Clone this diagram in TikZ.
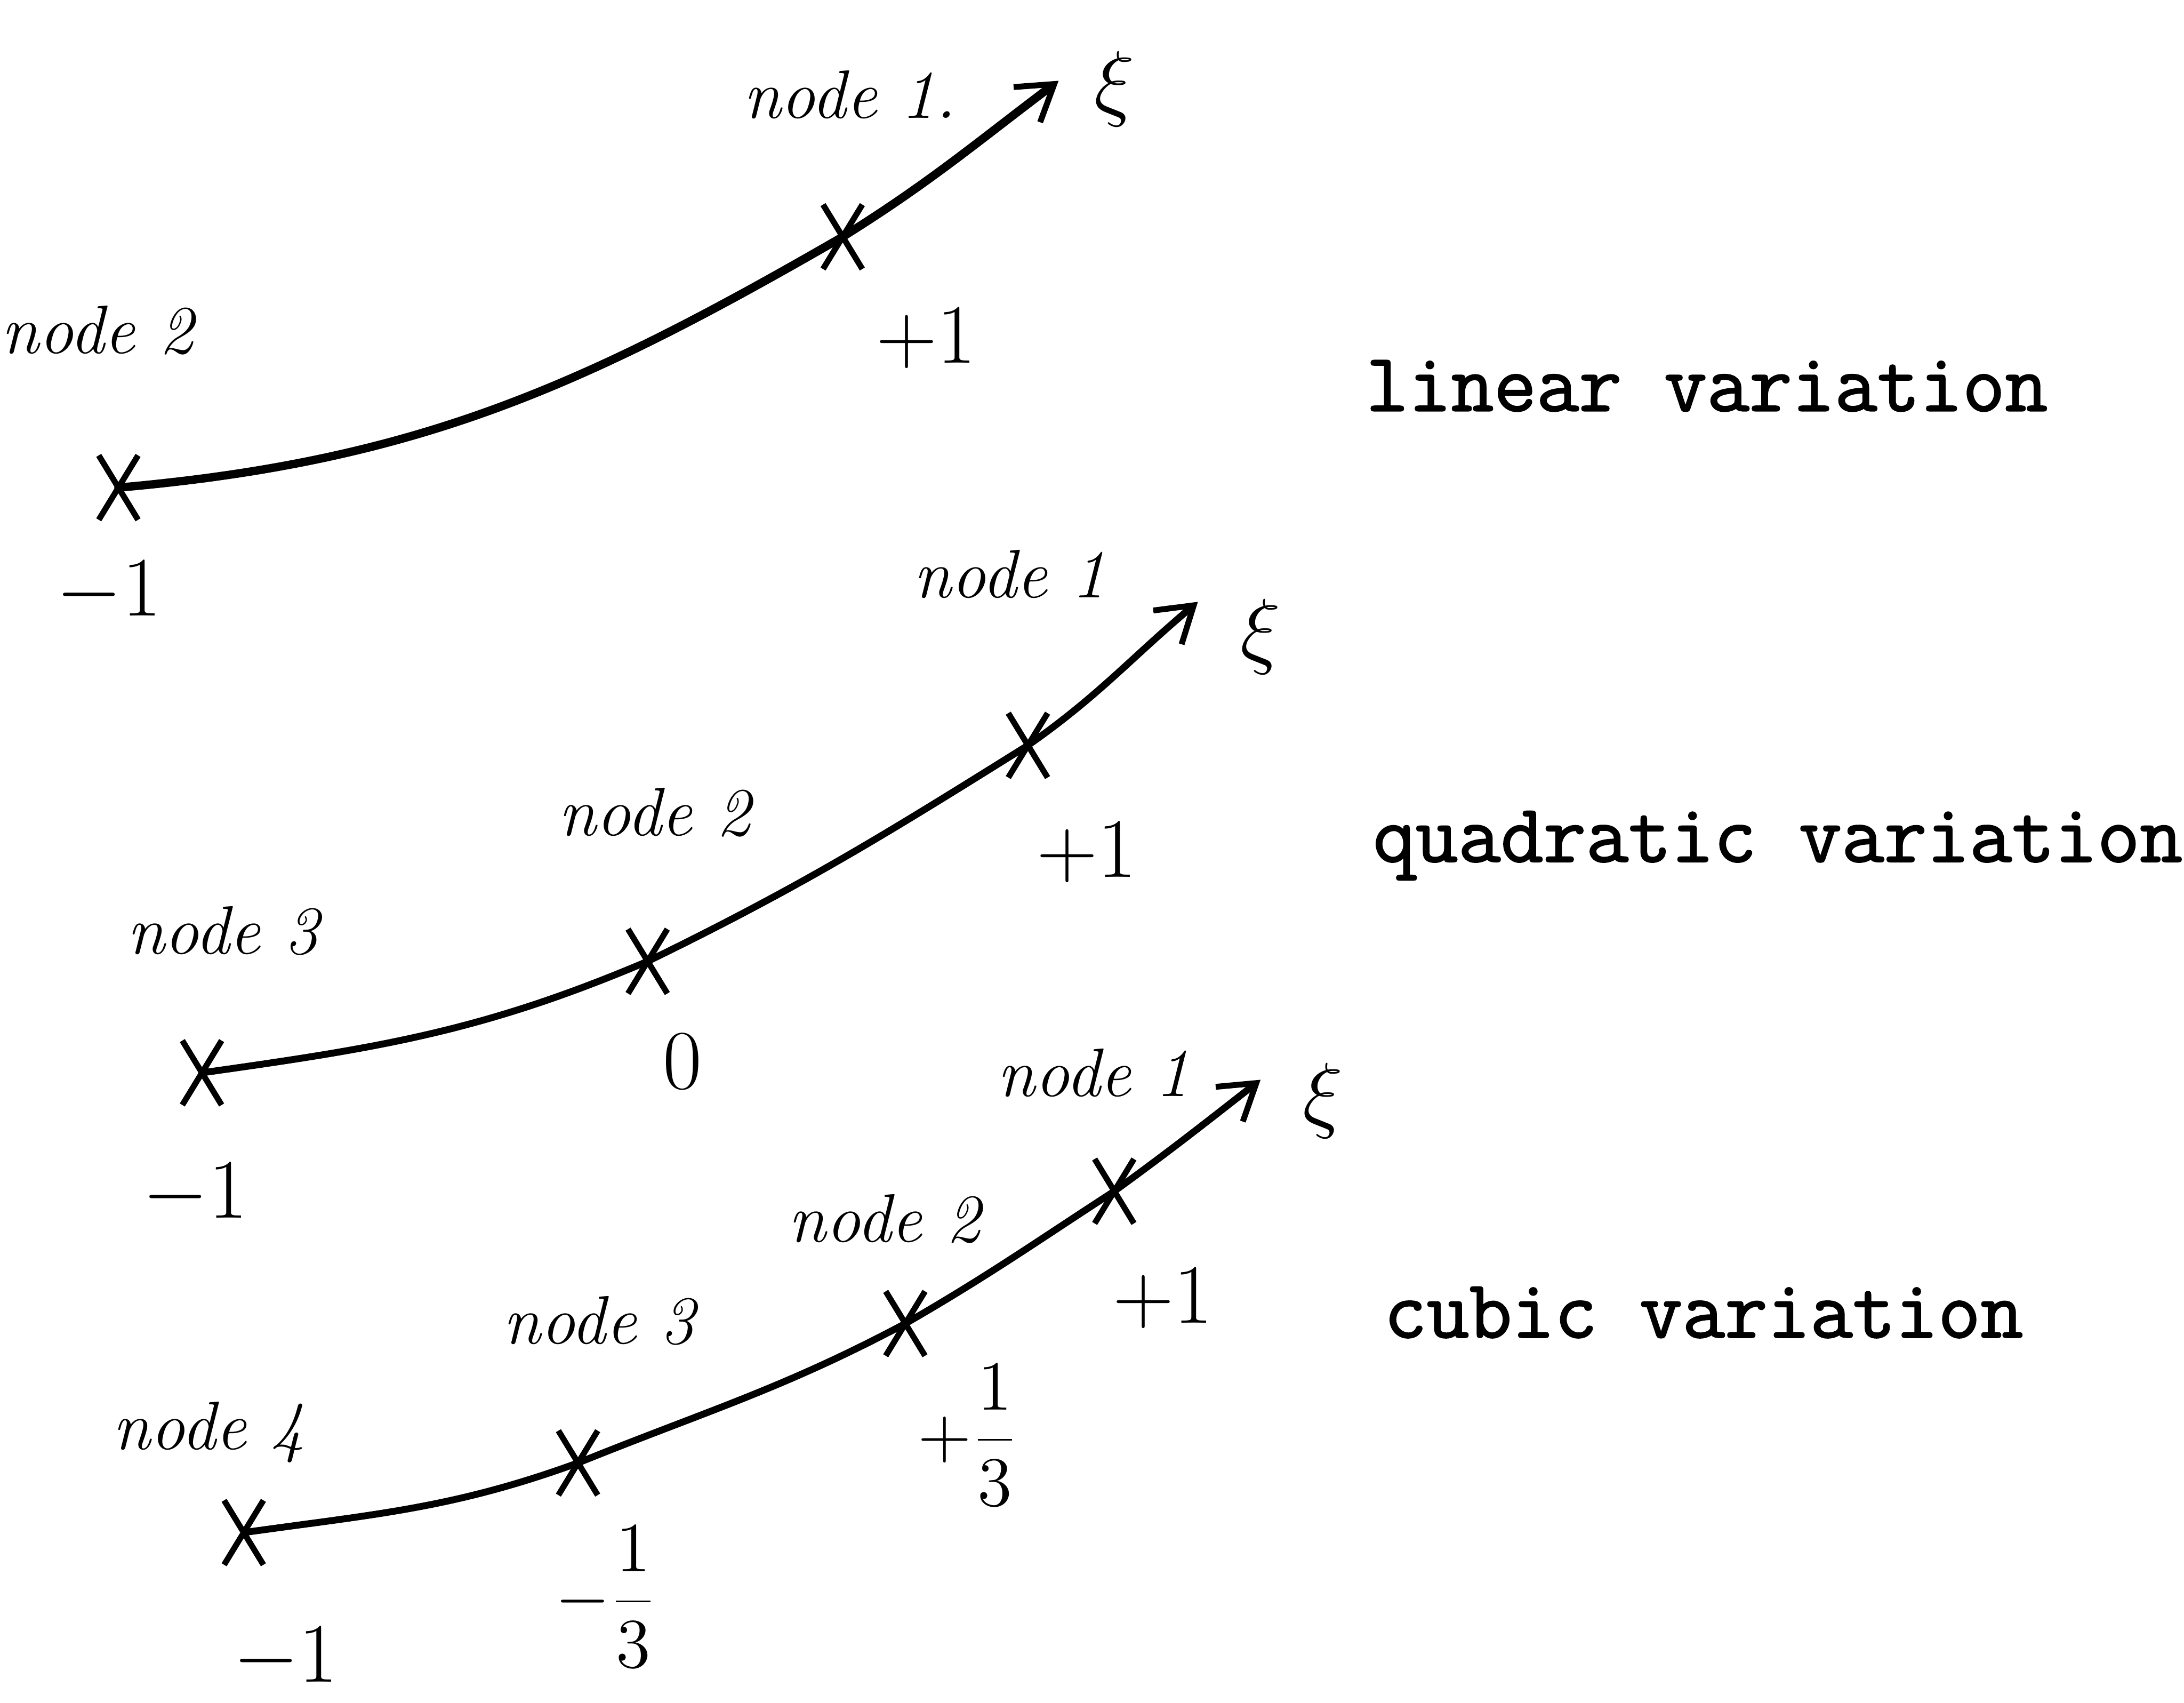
\documentclass[tikz,border=0pt]{standalone}
\usepackage{fontspec}
\newfontfamily\typefont{Latin Modern Mono}[FakeBold=1.6]
\usetikzlibrary{arrows.meta,shapes.misc}
\begin{document}
\begin{tikzpicture}[x=1cm,y=1cm,
  curve/.style={line width=1.4pt, line cap=round, -{Straight Barb[length=7pt,width=9pt,line width=1.2pt]}},
  xmark/.style={cross out, draw, line width=1.2pt, minimum width=0.24cm, minimum height=0.42cm, inner sep=0pt},
  hand/.style={font=\fontsize{14}{16}\selectfont\itshape},
  num/.style={font=\fontsize{16}{18}\selectfont},
  frac/.style={font=\fontsize{14}{16}\selectfont},
  tw/.style={font=\fontsize{16.9}{18}\selectfont\typefont, anchor=west, inner sep=0pt}]
\useasboundingbox (0,0) rectangle (15.68,12.22);

% ---------- linear ----------
\node[xmark] (l1) at (0.85,8.72) {};
\node[xmark] (x11) at (6.05,10.52) {};
\coordinate (t1) at (7.60,11.64);
\draw[curve, line width=1.7pt] (l1.center) to[out=5,in=210] (x11.center) to[out=32,in=217] (t1);
\node[hand] (n11) at (6.10,11.54) {node 1.};
\node[num] (xi1) at (8.00,11.58) {$\xi$};
\node[num] (v11) at (6.65,9.79) {$+1$};
\node[hand] (n12) at (0.70,9.85) {node 2};
\node[num] (v12) at (0.78,7.97) {$-1$};
\node[tw] (lab1) at (9.80,9.45) {linear variation};

% ---------- quadratic ----------
\node[xmark] (l2) at (1.45,4.52) {};
\node[xmark] (x2a) at (4.65,5.32) {};
\node[xmark] (x2b) at (7.38,6.87) {};
\coordinate (t2) at (8.60,7.90);
\draw[curve] (l2.center) to[out=8,in=203] (x2a.center) to[out=26,in=212] (x2b.center) to[out=35,in=220] (t2);
\node[hand] (n21) at (7.25,8.10) {node 1};
\node[num] (xi2) at (9.05,7.65) {$\xi$};
\node[num] (v21) at (7.80,6.10) {$+1$};
\node[hand] (n22) at (4.70,6.39) {node 2};
\node[num] (v22) at (4.90,4.60) {$0$};
\node[hand] (n23) at (1.60,5.54) {node 3};
\node[num] (v23) at (1.40,3.65) {$-1$};
\node[tw] (lab2) at (9.85,6.15) {quadratic variation};

% ---------- cubic ----------
\node[xmark] (l3) at (1.75,1.22) {};
\node[xmark] (x3a) at (4.15,1.72) {};
\node[xmark] (x3b) at (6.50,2.72) {};
\node[xmark] (x3c) at (8.00,3.67) {};
\coordinate (t3) at (9.05,4.47);
\draw[curve] (l3.center) to[out=8,in=200] (x3a.center) to[out=22,in=208] (x3b.center) to[out=30,in=213] (x3c.center) to[out=36,in=218] (t3);
\node[hand] (n31) at (7.85,4.52) {node 1};
\node[num] (xi3) at (9.50,4.32) {$\xi$};
\node[num] (v31) at (8.35,2.90) {$+1$};
\node[hand] (n32) at (6.35,3.47) {node 2};
\node[frac] (v32) at (6.95,1.92) {$+\displaystyle\frac{1}{3}$};
\node[hand] (n33) at (4.30,2.74) {node 3};
\node[frac] (v33) at (4.35,0.76) {$-\displaystyle\frac{1}{3}$};
\node[hand] (n34) at (1.50,1.94) {node 4};
\node[num] (v34) at (2.05,0.32) {$-1$};
\node[tw] (lab3) at (9.93,2.80) {cubic variation};
\end{tikzpicture}
\end{document}
